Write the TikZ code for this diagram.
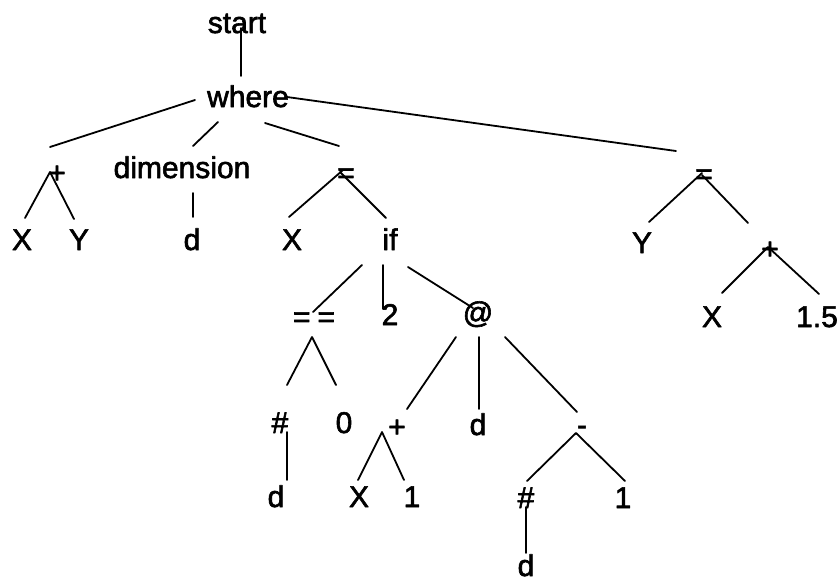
\documentclass[tikz,border=0pt]{standalone}
\usepackage{fontspec}
\setmainfont[FakeBold=2,AutoFakeBold=2]{Liberation Sans}

\begin{document}
\begin{tikzpicture}[x=1pt,y=-1pt,line cap=round,line join=round,
  every node/.style={inner sep=0pt,anchor=base,font=\fontsize{30}{36}\selectfont\bfseries},
  edge/.style={line width=1.8pt}]
  \useasboundingbox (0,0) rectangle (839,582);
  % 结点
  \node (start) at (237,33) {start};
  \node (where) at (248,107) {where};
  \node (plusA) at (57,183) {+};
  \node (xA) at (22,250) {X};
  \node (yA) at (79,250) {Y};
  \node (dim) at (182,178) {dimension};
  \node (dA) at (192,250) {d};
  \node (eqA) at (346,183) {=};
  \node (xB) at (292,250) {X};
  \node (if) at (390,250) {if};
  \node (eqeq) at (314,327) {=\hspace{7pt}=};
  \node (two) at (390,325) {2};
  \node (at) at (478,323) {@};
  \node (hashA) at (280,433) {\#};
  \node (zero) at (344,433) {0};
  \node (dB) at (276,507) {d};
  \node (plusB) at (397,437) {+};
  \node (dC) at (478,435) {d};
  \node (minus) at (582,435) {-};
  \node (xC) at (359,507) {X};
  \node (oneA) at (412,507) {1};
  \node (hashB) at (526,508) {\#};
  \node (oneB) at (623,508) {1};
  \node (dD) at (526,576) {d};
  \node (eqB) at (704,184) {=};
  \node (yB) at (642,253) {Y};
  \node (plusC) at (770,259) {+};
  \node (xD) at (712,327) {X};
  \node (num) at (817,327) {1.5};
  % 连线端点
  \coordinate (start-b) at (241,28);  \coordinate (where-t) at (241,76);
  \coordinate (where-1) at (195,100); \coordinate (plusA-t) at (50,147);
  \coordinate (where-2) at (218,122); \coordinate (dim-t) at (193,146);
  \coordinate (where-3) at (265,123); \coordinate (eqA-t) at (339,146);
  \coordinate (where-4) at (287,97);  \coordinate (eqB-t) at (676,151);
  \coordinate (plusA-b) at (50,172);  \coordinate (xA-t) at (25,218);  \coordinate (yA-t) at (74,219);
  \coordinate (dim-b) at (193,193);   \coordinate (dA-t) at (193,217);
  \coordinate (eqA-b1) at (343,170);  \coordinate (xB-t) at (289,217);
  \coordinate (eqA-b2) at (340,172);  \coordinate (if-t) at (386,218);
  \coordinate (if-1) at (362,265);    \coordinate (eqeq-t) at (313,312);
  \coordinate (if-2) at (383,265);    \coordinate (two-t) at (383,309);
  \coordinate (if-3) at (408,267);    \coordinate (at-t) at (473,308);
  \coordinate (eqeq-b) at (312,337);  \coordinate (hashA-t) at (287,385); \coordinate (zero-t) at (336,385);
  \coordinate (hashA-b) at (287,432); \coordinate (dB-t) at (287,480);
  \coordinate (at-1) at (456,337);    \coordinate (plusB-t) at (407,409);
  \coordinate (at-2) at (479,337);    \coordinate (dC-t) at (479,409);
  \coordinate (at-3) at (505,337);    \coordinate (minus-t) at (577,412);
  \coordinate (plusB-b) at (382,432); \coordinate (xC-t) at (358,480);  \coordinate (oneA-t) at (404,480);
  \coordinate (minus-b) at (576,433); \coordinate (hashB-t) at (527,481); \coordinate (oneB-t) at (625,481);
  \coordinate (hashB-b) at (526,507); \coordinate (dD-t) at (526,553);
  \coordinate (eqB-b1) at (702,173);  \coordinate (yB-t) at (649,222);
  \coordinate (eqB-b2) at (702,175);  \coordinate (plusC-t) at (748,223);
  \coordinate (plusC-b) at (768,247); \coordinate (xD-t) at (722,293);  \coordinate (num-t) at (819,294);
  % 连线
  \draw[edge] (start-b) -- (where-t);
  \draw[edge] (where-1) -- (plusA-t);
  \draw[edge] (where-2) -- (dim-t);
  \draw[edge] (where-3) -- (eqA-t);
  \draw[edge] (where-4) -- (eqB-t);
  \draw[edge] (xA-t) -- (plusA-b) -- (yA-t);
  \draw[edge] (dim-b) -- (dA-t);
  \draw[edge] (eqA-b1) -- (xB-t);
  \draw[edge] (eqA-b2) -- (if-t);
  \draw[edge] (if-1) -- (eqeq-t);
  \draw[edge] (if-2) -- (two-t);
  \draw[edge] (if-3) -- (at-t);
  \draw[edge] (hashA-t) -- (eqeq-b) -- (zero-t);
  \draw[edge] (hashA-b) -- (dB-t);
  \draw[edge] (at-1) -- (plusB-t);
  \draw[edge] (at-2) -- (dC-t);
  \draw[edge] (at-3) -- (minus-t);
  \draw[edge] (xC-t) -- (plusB-b) -- (oneA-t);
  \draw[edge] (hashB-t) -- (minus-b) -- (oneB-t);
  \draw[edge] (hashB-b) -- (dD-t);
  \draw[edge] (eqB-b1) -- (yB-t);
  \draw[edge] (eqB-b2) -- (plusC-t);
  \draw[edge] (xD-t) -- (plusC-b) -- (num-t);
\end{tikzpicture}
\end{document}
